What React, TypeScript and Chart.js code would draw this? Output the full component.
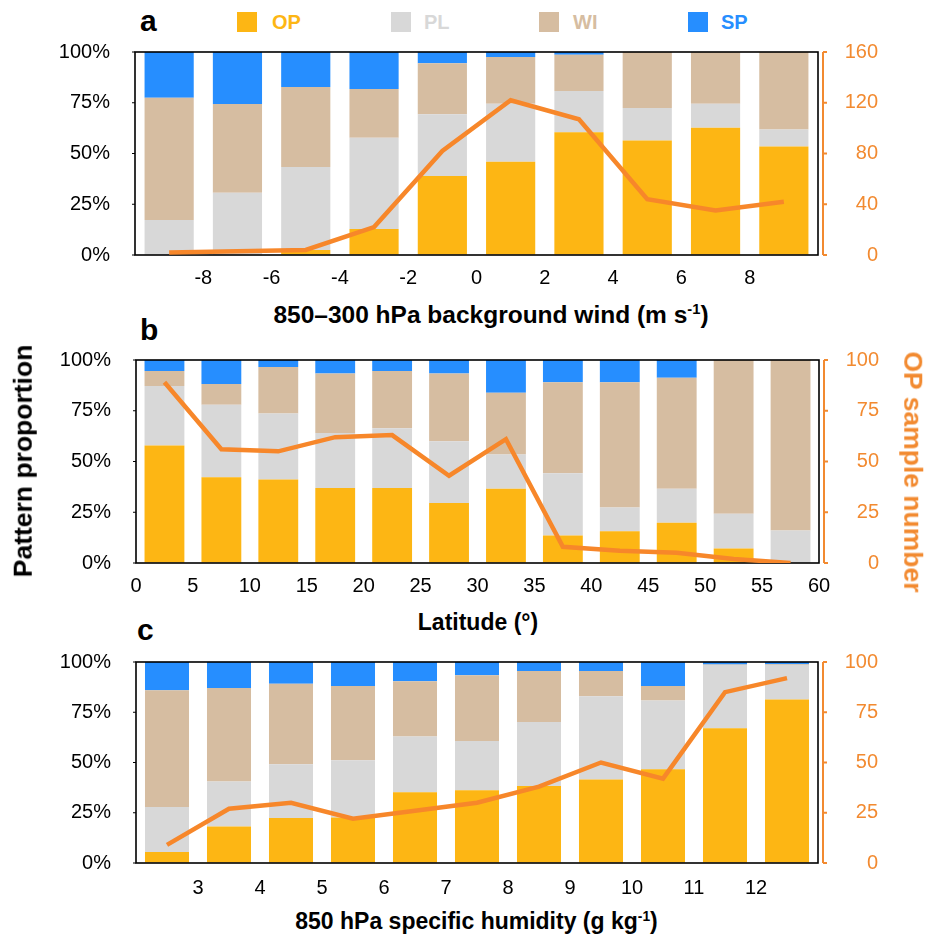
import React, { useEffect, useRef } from "react";
import { Chart, registerables } from "chart.js";

Chart.register(...registerables);

const FONT = "'Liberation Sans', Arial, Helvetica, sans-serif";
const OP_COLOR = "#FDB614";
const PL_COLOR = "#D8D8D8";
const WI_COLOR = "#D6BDA1";
const SP_COLOR = "#268EFF";
const COUNT_COLOR = "#F7872A";
const AXIS_ORANGE = "#F28A30";

// (a) 850–300 hPa background wind, 2 m s-1 bins
const windBins = [-9, -7, -5, -3, -1, 1, 3, 5, 7, 9];
const windOP = [0, 0, 2.5, 12.8, 38.9, 45.9, 60.5, 56.4, 62.7, 53.5];
const windPL = [17.2, 30.7, 40.8, 44.9, 30.4, 28.6, 20.3, 16.0, 11.8, 8.3];
const windWI = [60.3, 43.7, 39.5, 24.1, 25.1, 23.0, 17.9, 27.6, 25.5, 38.2];
const windSP = [22.5, 25.6, 17.2, 18.2, 5.6, 2.5, 1.3, 0, 0, 0];
const windCount = [2, 3, 4, 22, 82, 122, 107, 44, 35, 42];

// (b) latitude, 5° bins
const latBins = [2.5, 7.5, 12.5, 17.5, 22.5, 27.5, 32.5, 37.5, 42.5, 47.5, 52.5, 57.5];
const latOP = [57.9, 42.3, 41.1, 36.9, 36.9, 29.5, 36.6, 13.5, 15.7, 19.8, 7.2, 0];
const latPL = [29.3, 35.6, 32.5, 27.2, 29.5, 30.5, 16.9, 30.7, 11.6, 16.8, 17.0, 16.0];
const latWI = [7.4, 10.3, 23.0, 29.3, 28.2, 33.4, 30.4, 44.9, 61.8, 54.7, 75.8, 84.0];
const latSP = [5.4, 11.8, 3.4, 6.6, 5.4, 6.6, 16.1, 10.9, 10.9, 8.7, 0, 0];
const latCount = [89, 56, 55, 62, 63, 43, 61, 8, 6, 5, 2, 0];

// (c) 850 hPa specific humidity, 1 g kg-1 bins
const humBins = [2.5, 3.5, 4.5, 5.5, 6.5, 7.5, 8.5, 9.5, 10.5, 11.5, 12.5];
const humOP = [5.5, 18.2, 22.4, 22.6, 35.2, 36.2, 38.3, 41.5, 46.6, 67.0, 81.4];
const humPL = [22.4, 22.3, 26.7, 28.5, 27.7, 24.5, 31.8, 41.4, 34.3, 31.5, 17.1];
const humWI = [58.0, 46.6, 40.1, 37.0, 27.5, 32.7, 25.4, 12.6, 7.2, 0.3, 0.4];
const humSP = [14.1, 12.9, 10.8, 11.9, 9.6, 6.6, 4.5, 4.5, 11.9, 1.2, 1.1];
const humCount = [9, 27, 30, 22, 26, 30, 38, 50, 42, 85, 92];

const patternNames = ["OP", "PL", "WI", "SP"];
const patternColors = [OP_COLOR, PL_COLOR, WI_COLOR, SP_COLOR];

interface PanelSpec {
  bins: number[];
  shares: number[][];
  count: number[];
  xMin: number;
  xMax: number;
  xStep: number;
  hideEnds: boolean;
  countMax: number;
  countStep: number;
  barFrac: number;
  top: number;
  height: number;
  yWidth: number;
  rightPad: number;
  xPad: number;
}

const panels: PanelSpec[] = [
  {
    bins: windBins,
    shares: [windOP, windPL, windWI, windSP],
    count: windCount,
    xMin: -10, xMax: 10, xStep: 2, hideEnds: true,
    countMax: 160, countStep: 40, barFrac: 0.72,
    top: 40, height: 255, yWidth: 135, rightPad: 49, xPad: 11,
  },
  {
    bins: latBins,
    shares: [latOP, latPL, latWI, latSP],
    count: latCount,
    xMin: 0, xMax: 60, xStep: 5, hideEnds: false,
    countMax: 100, countStep: 25, barFrac: 0.7,
    top: 348, height: 255, yWidth: 136, rightPad: 48, xPad: 11,
  },
  {
    bins: humBins,
    shares: [humOP, humPL, humWI, humSP],
    count: humCount,
    xMin: 2, xMax: 13, xStep: 1, hideEnds: true,
    countMax: 100, countStep: 25, barFrac: 0.71,
    top: 650, height: 253, yWidth: 136, rightPad: 49, xPad: 13,
  },
];

// Black frame round the plot area with short outward ticks on the
// proportion axis (drawn under the count line), plus the orange count
// axis set a little outside the frame.
const framePlugin = {
  id: "panelFrame",
  beforeDatasetDraw(chart: any, args: any) {
    if (args.meta.type !== "line") return;
    const { ctx, chartArea } = chart;
    const { left, right, top, bottom } = chartArea;
    ctx.save();
    ctx.strokeStyle = "#000";
    ctx.lineWidth = 1;
    const y = chart.scales.y;
    ctx.beginPath();
    y.ticks.forEach((t: any) => {
      const py = y.getPixelForValue(t.value);
      ctx.moveTo(left - 3, py);
      ctx.lineTo(left, py);
    });
    ctx.stroke();

    ctx.lineWidth = 1.6;
    ctx.strokeRect(left, top, right - left, bottom - top);

    const y2 = chart.scales.y2;
    const ax = right + 5;
    ctx.strokeStyle = AXIS_ORANGE;
    ctx.lineWidth = 2;
    ctx.beginPath();
    ctx.moveTo(ax, y2.getPixelForValue(y2.max));
    ctx.lineTo(ax, y2.getPixelForValue(y2.min));
    y2.ticks.forEach((t: any) => {
      const py = y2.getPixelForValue(t.value);
      ctx.moveTo(ax, py);
      ctx.lineTo(ax + 4, py);
    });
    ctx.stroke();
    ctx.restore();
  },
};

function PanelChart({ spec }: { spec: PanelSpec }) {
  const ref = useRef<HTMLCanvasElement>(null);

  useEffect(() => {
    const tickFont = { family: FONT, size: 20 };
    const barSets = spec.shares.map((vals, k) => ({
      type: "bar" as const,
      label: patternNames[k],
      data: spec.bins.map((x, i) => ({ x, y: vals[i] })),
      backgroundColor: patternColors[k],
      borderWidth: 0,
      barPercentage: spec.barFrac,
      categoryPercentage: 1,
      yAxisID: "y",
      order: 1,
    }));
    const countSet = {
      type: "line" as const,
      label: "OP sample number",
      data: spec.bins.map((x, i) => ({ x, y: spec.count[i] })),
      borderColor: COUNT_COLOR,
      borderWidth: 4.5,
      pointRadius: 0,
      pointHoverRadius: 0,
      tension: 0,
      fill: false,
      yAxisID: "y2",
      order: 0,
    };

    const chart = new Chart(ref.current as HTMLCanvasElement, {
      type: "bar",
      data: { datasets: [countSet as any, ...barSets] },
      options: {
        animation: false,
        responsive: false,
        maintainAspectRatio: false,
        events: [],
        layout: { padding: { left: 0, right: spec.rightPad, top: 12, bottom: 0 } },
        plugins: { legend: { display: false }, tooltip: { enabled: false } },
        scales: {
          x: {
            type: "linear",
            min: spec.xMin,
            max: spec.xMax,
            stacked: true,
            offset: false,
            grid: { display: false, drawTicks: false },
            border: { display: false },
            ticks: {
              stepSize: spec.xStep,
              autoSkip: false,
              maxRotation: 0,
              padding: spec.xPad,
              color: "#000",
              font: tickFont,
              callback: (v: any) =>
                spec.hideEnds && (v === spec.xMin || v === spec.xMax) ? "" : String(v),
            },
            afterFit: (s: any) => {
              s.height = 40;
            },
          },
          y: {
            type: "linear",
            position: "left",
            stacked: true,
            min: 0,
            max: 100,
            // tick marks kept invisible: they only space the labels off the axis
            grid: {
              drawOnChartArea: false,
              drawTicks: true,
              tickLength: 25,
              tickColor: "rgba(0,0,0,0)",
            },
            border: { display: false },
            ticks: {
              stepSize: 25,
              padding: 0,
              color: "#000",
              font: tickFont,
              callback: (v: any) => `${v}%`,
            },
            afterFit: (s: any) => {
              s.width = spec.yWidth;
            },
          },
          y2: {
            type: "linear",
            position: "right",
            min: 0,
            max: spec.countMax,
            grid: {
              drawOnChartArea: false,
              drawTicks: true,
              tickLength: 15.5,
              tickColor: "rgba(0,0,0,0)",
            },
            border: { display: false },
            ticks: {
              stepSize: spec.countStep,
              padding: 0,
              crossAlign: "far",
              color: AXIS_ORANGE,
              font: tickFont,
            },
            afterFit: (s: any) => {
              s.width = 60;
            },
          },
        },
      } as any,
      plugins: [framePlugin],
    });
    return () => chart.destroy();
  }, [spec]);

  return (
    <canvas
      ref={ref}
      width={927}
      height={spec.height}
      style={{ position: "absolute", left: 0, top: spec.top, width: 927, height: spec.height }}
    />
  );
}

// Text placed by its baseline (line-height 1, Liberation Sans ascent ~0.8465em).
function Text({
  x, y, size, color = "#000", bold = true, center = false, children,
}: {
  x: number; y: number; size: number; color?: string; bold?: boolean; center?: boolean;
  children: React.ReactNode;
}) {
  return (
    <div
      style={{
        position: "absolute",
        left: x,
        top: y - 0.8465 * size,
        fontFamily: FONT,
        fontSize: size,
        lineHeight: 1,
        fontWeight: bold ? 700 : 400,
        color,
        whiteSpace: "nowrap",
        transform: center ? "translateX(-50%)" : undefined,
      }}
    >
      {children}
    </div>
  );
}

function Sup({ children }: { children: React.ReactNode }) {
  return (
    <span style={{ fontSize: "0.6em", position: "relative", top: "-0.55em", verticalAlign: "baseline" }}>
      {children}
    </span>
  );
}

function RotatedText({
  cx, cy, size, angle, color, children,
}: {
  cx: number; cy: number; size: number; angle: number; color: string; children: React.ReactNode;
}) {
  return (
    <div
      style={{
        position: "absolute",
        left: cx,
        top: cy,
        fontFamily: FONT,
        fontSize: size,
        lineHeight: 1,
        fontWeight: 700,
        color,
        whiteSpace: "nowrap",
        transform: `translate(-50%, -50%) rotate(${angle}deg)`,
      }}
    >
      {children}
    </div>
  );
}

const legendX = [237, 391, 539, 688];
const legendTextX = [272, 424, 573, 721];

export default function App() {
  return (
    <div
      style={{
        position: "absolute",
        left: 0,
        top: 0,
        width: 927,
        height: 934,
        background: "#fff",
        overflow: "hidden",
      }}
    >
      {panels.map((p, i) => (
        <PanelChart key={i} spec={p} />
      ))}

      {/* legend */}
      {patternNames.map((name, k) => (
        <React.Fragment key={name}>
          <div
            style={{
              position: "absolute",
              left: legendX[k],
              top: 12,
              width: 20,
              height: 20,
              background: patternColors[k],
            }}
          />
          <Text x={legendTextX[k]} y={29.3} size={20} color={patternColors[k]}>
            {name}
          </Text>
        </React.Fragment>
      ))}

      {/* panel letters */}
      <Text x={140} y={31} size={30}>a</Text>
      <Text x={140} y={340} size={30}>b</Text>
      <Text x={137} y={640} size={30}>c</Text>

      {/* x-axis titles */}
      <Text x={491} y={323.3} size={24.5} center>
        850–300 hPa background wind (m s<Sup>-1</Sup>)
      </Text>
      <Text x={478} y={630} size={23} center>
        Latitude (°)
      </Text>
      <Text x={476.5} y={929.3} size={23} center>
        850 hPa specific humidity (g kg<Sup>-1</Sup>)
      </Text>

      {/* y-axis titles */}
      <RotatedText cx={23} cy={461} size={26.5} angle={-90} color="#000">
        Pattern proportion
      </RotatedText>
      <RotatedText cx={913} cy={471.5} size={26.5} angle={90} color={AXIS_ORANGE}>
        OP sample number
      </RotatedText>
    </div>
  );
}
